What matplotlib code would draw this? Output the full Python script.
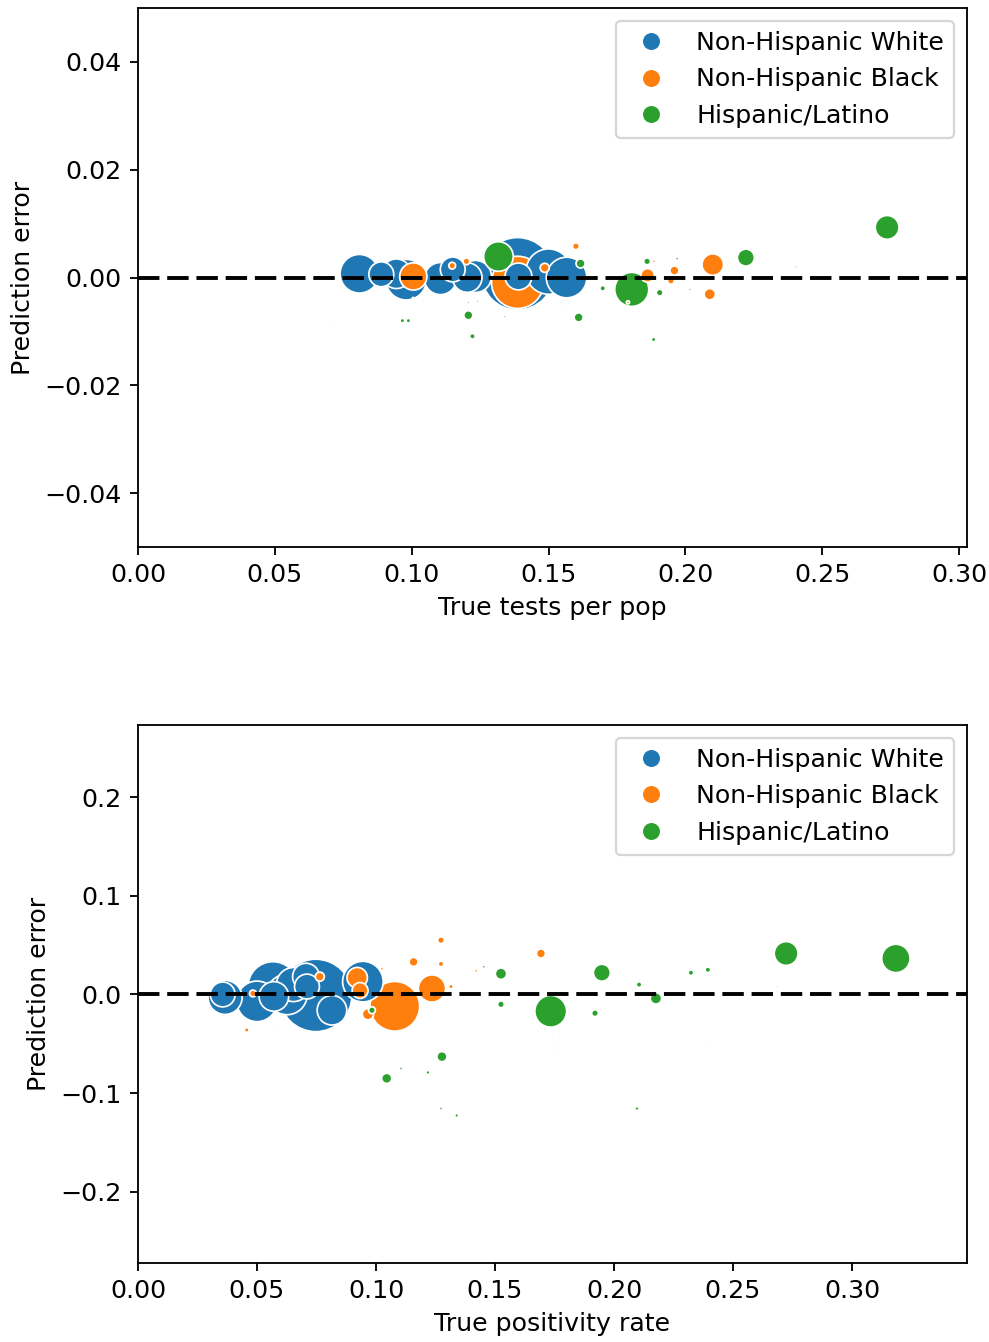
import numpy as np
import matplotlib
matplotlib.use("Agg")
from matplotlib import pyplot as plt
from matplotlib.lines import Line2D

plt.rcParams['font.size'] = 11

groups = ['Non-Hispanic White', 'Non-Hispanic Black', 'Hispanic/Latino']
colors = ['#1f77b4', '#ff7f0e', '#2ca02c']

# top panel: true tests per pop vs prediction error, bubble = population (millions)
tests_white_x = [0.0809, 0.0889, 0.0980, 0.0944, 0.1105, 0.1150, 0.1203, 0.1233, 0.1387, 0.1390, 0.1500, 0.1566]
tests_white_y = [0.0007, 0.0006, -0.0004, 0.0007, -0.0002, 0.0015, 0.0000, 0.0002, 0.0007, 0.0002, 0.0011, 0.0000]
tests_white_pop = [2.9, 1.2, 3.2, 1.7, 2.0, 1.2, 1.7, 2.0, 10.2, 1.4, 4.0, 3.2]

tests_black_x = [0.1006, 0.1148, 0.1200, 0.1220, 0.1387, 0.1486, 0.1600, 0.1709, 0.1790, 0.1862,
                 0.1885, 0.1947, 0.1960, 0.1987, 0.2016, 0.2100, 0.2089, 0.2404, 0.2290, 0.0590]
tests_black_y = [0.0002, 0.0022, 0.0030, 0.0040, -0.0009, 0.0018, 0.0058, 0.0154, -0.0046, 0.0004,
                 0.0030, -0.0006, 0.0013, -0.0002, -0.0022, 0.0024, -0.0031, 0.0020, -0.0020, -0.0022]
tests_black_pop = [1.44, 0.09, 0.09, 0.01, 5.3, 0.16, 0.09, 0.006, 0.02, 0.36,
                   0.02, 0.09, 0.16, 0.02, 0.017, 0.9, 0.25, 0.014, 0.004, 0.006]

tests_hisp_x = [0.1317, 0.1617, 0.1698, 0.1804, 0.1860, 0.1207, 0.0966, 0.0988, 0.1006, 0.1222, 0.0695, 0.1340,
                0.1610, 0.1207, 0.1240, 0.1167, 0.1427, 0.1906, 0.1884, 0.1970, 0.2221, 0.2737, 0.1570]
tests_hisp_y = [0.0039, 0.0026, -0.0020, -0.0022, 0.0030, -0.0070, -0.0080, -0.0080, -0.0039, -0.0109, -0.0085, -0.0072,
                -0.0074, -0.0046, -0.0044, -0.0126, -0.0139, -0.0028, -0.0115, 0.0035, 0.0037, 0.0093, -0.0061]
tests_hisp_pop = [1.7, 0.16, 0.06, 2.25, 0.09, 0.16, 0.04, 0.04, 0.01, 0.06, 0.01, 0.014,
                  0.16, 0.014, 0.014, 0.005, 0.004, 0.09, 0.04, 0.02, 0.56, 1.1, 0.003]

# bottom panel: true positivity rate vs prediction error
pos_white_x = [0.0366, 0.0356, 0.0500, 0.0567, 0.0571, 0.0626, 0.0747, 0.0710, 0.0706, 0.0815, 0.0945, 0.0653]
pos_white_y = [-0.003, 0.000, -0.007, 0.008, -0.002, 0.000, -0.001, 0.008, 0.018, -0.016, 0.013, 0.010]
pos_white_pop = [2.25, 1.2, 3.2, 4.8, 1.7, 3.2, 10.2, 1.2, 1.4, 1.7, 3.2, 2.25]

pos_black_x = [0.0483, 0.0764, 0.0921, 0.0933, 0.0966, 0.1079, 0.1235, 0.1273, 0.1158, 0.1273,
               0.1421, 0.1315, 0.1025, 0.0457, 0.0564, 0.1693, 0.1792, 0.0812, 0.0871]
pos_black_y = [0.001, 0.018, 0.017, 0.004, -0.020, -0.012, 0.006, 0.055, 0.033, 0.031,
               0.024, 0.008, 0.026, -0.036, -0.033, 0.0415, 0.061, -0.050, -0.045]
pos_black_pop = [0.09, 0.16, 0.81, 0.49, 0.25, 4.8, 1.44, 0.09, 0.16, 0.06,
                 0.02, 0.04, 0.02, 0.04, 0.01, 0.16, 0.005, 0.004, 0.004]

pos_hisp_x = [0.0983, 0.1525, 0.1453, 0.1525, 0.1734, 0.1772, 0.1752, 0.1752, 0.1949, 0.1920, 0.2105,
              0.2176, 0.2079, 0.2096, 0.2323, 0.2394, 0.2386, 0.2366, 0.2723, 0.3184, 0.1277, 0.1045,
              0.1105, 0.1218, 0.1273, 0.1339, 0.0075, 0.0622, 0.1139, 0.2277, 0.2683]
pos_hisp_y = [-0.016, 0.021, 0.028, -0.010, -0.017, -0.044, -0.051, -0.056, 0.022, -0.019, 0.010,
              -0.004, 0.024, -0.1155, 0.022, 0.025, -0.050, 0.003, 0.0415, 0.0365, -0.063, -0.085,
              -0.075, -0.079, -0.1155, -0.1226, -0.131, -0.181, -0.140, 0.139, 0.008]
pos_hisp_pop = [0.09, 0.25, 0.02, 0.09, 1.96, 0.01, 0.01, 0.01, 0.56, 0.09, 0.06,
                0.25, 0.006, 0.03, 0.06, 0.06, 0.01, 0.006, 1.1, 1.56, 0.2, 0.2,
                0.02, 0.03, 0.02, 0.03, 0.003, 0.004, 0.003, 0.003, 0.002]

panels = [
    ([tests_white_x, tests_black_x, tests_hisp_x],
     [tests_white_y, tests_black_y, tests_hisp_y],
     [tests_white_pop, tests_black_pop, tests_hisp_pop],
     'True tests per pop', (0, 0.3029), (-0.05, 0.05), [-0.04, -0.02, 0.0, 0.02, 0.04]),
    ([pos_white_x, pos_black_x, pos_hisp_x],
     [pos_white_y, pos_black_y, pos_hisp_y],
     [pos_white_pop, pos_black_pop, pos_hisp_pop],
     'True positivity rate', (0, 0.3483), (-0.272, 0.273), [-0.2, -0.1, 0.0, 0.1, 0.2]),
]

fig = plt.figure(figsize=(989 / 165, 1342 / 165), dpi=165)
boxes = [[0.1395, 0.5924, 0.8383, 0.4016], [0.1395, 0.0589, 0.8383, 0.4009]]

for box, (xs, ys, pops, xlabel, xlim, ylim, yticks) in zip(boxes, panels):
    ax = fig.add_axes(box)
    all_x, all_y, all_p, all_c = [], [], [], []
    for i in range(len(groups)):
        all_x += xs[i]
        all_y += ys[i]
        all_p += pops[i]
        all_c += [colors[i]] * len(xs[i])
    all_x = np.array(all_x)
    all_y = np.array(all_y)
    all_p = np.array(all_p)
    all_c = np.array(all_c)
    order = np.argsort(-all_p)
    sizes = all_p / 10.2 * 1000
    ax.scatter(all_x[order], all_y[order], s=sizes[order], c=all_c[order],
               edgecolors='white', linewidths=0.75, zorder=2)
    ax.axhline(0, color='black', linestyle=(0, (5.5, 2)), linewidth=1.7, zorder=3)
    ax.set_xlim(*xlim)
    ax.set_ylim(*ylim)
    ax.set_yticks(yticks)
    ax.set_xlabel(xlabel)
    ax.set_ylabel('Prediction error')
    handles = [Line2D([], [], marker='o', linestyle='none', markersize=8,
                      markerfacecolor=c, markeredgecolor='white', markeredgewidth=0.6, color=c)
               for c in colors]
    ax.legend(handles, groups, loc='upper right')

plt.savefig('out.png', dpi=165)
